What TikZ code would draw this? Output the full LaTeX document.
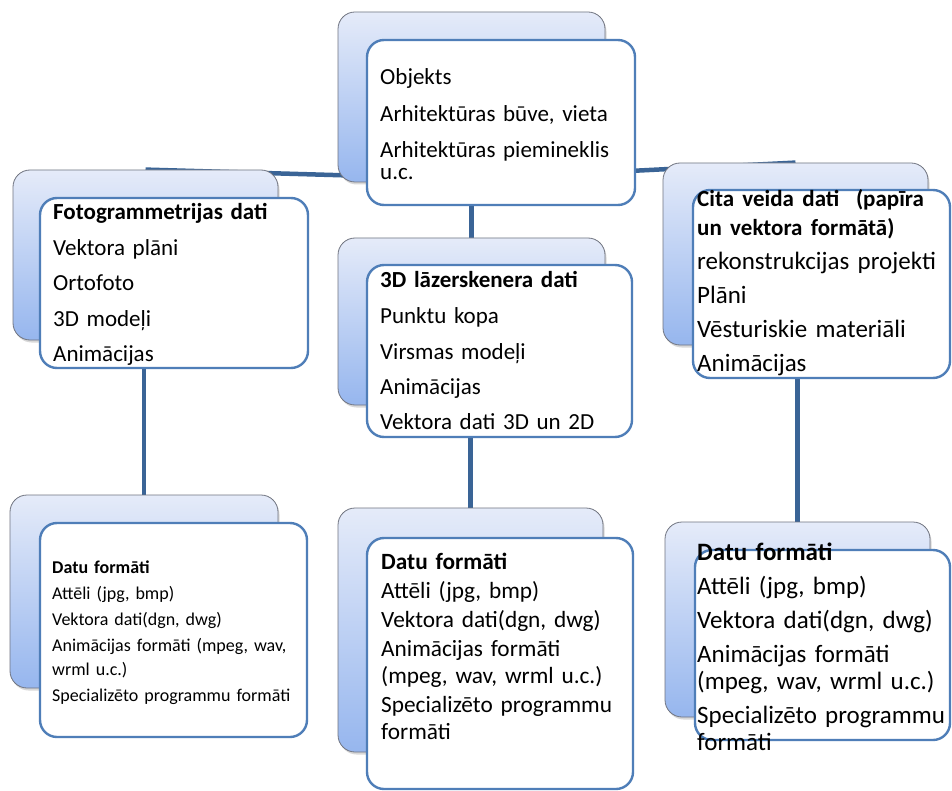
\documentclass[tikz,border=0pt]{standalone}
\usepackage{fontspec}
\setmainfont{Carlito}
\usetikzlibrary{shadows,calc}

\definecolor{linkblue}{RGB}{58,100,150}
\definecolor{frameblue}{RGB}{79,126,184}
\definecolor{backtop}{RGB}{229,235,249}
\definecolor{backbottom}{RGB}{150,182,238}
\definecolor{backedge}{RGB}{112,116,128}

\pgfdeclarelayer{bg}
\pgfsetlayers{bg,main}

% font size, baseline distance; no extra line skip between tight lines
\newcommand{\setboxfont}[2]{\fontsize{#1}{#2}\selectfont\lineskiplimit=-100pt\lineskip=0pt}

\tikzset{
  backbox/.style={rectangle, rounded corners=17pt, draw=backedge, line width=0.8pt,
    top color=backtop, bottom color=backbottom, inner sep=0pt,
    drop shadow={shadow xshift=1.5pt, shadow yshift=-2.5pt, opacity=0.3}},
  frontbox/.style={rectangle, rounded corners=17pt, draw=frameblue, line width=2.4pt,
    fill=white, inner sep=0pt},
  link/.style={draw=linkblue, line width=4.5pt},
  boxtext/.style={anchor=base west, inner sep=0pt, text width=300pt, align=left},
}

\begin{document}
\begin{tikzpicture}[x=1pt,y=-1pt]
\useasboundingbox (0,0) rectangle (952,791);

% root: the object
\node[backbox, minimum width=267pt, minimum height=170pt] (rootback) at (471.5,97) {};
\node[frontbox, minimum width=268pt, minimum height=165pt] (rootfront) at (501,122.5) {};
\node[boxtext, font=\setboxfont{23}{22}] (roottext) at (380,85)
  {Objekts\\[14.5pt] Arhitektūras būve, vieta\\[14.5pt] Arhitektūras piemineklis\\ u.c.};

% photogrammetry
\node[backbox, minimum width=265pt, minimum height=170pt] (lback) at (145.5,255) {};
\node[frontbox, minimum width=268pt, minimum height=170pt] (lfront) at (174,283) {};
\node[boxtext, font=\setboxfont{23}{35.5}] (ltext) at (53,220)
  {\textbf{Fotogrammetrijas dati}\\ Vektora plāni\\ Ortofoto\\ 3D modeļi\\ Animācijas};

% laser scanner
\node[backbox, minimum width=267pt, minimum height=167pt] (mback) at (471.5,321.5) {};
\node[frontbox, minimum width=265pt, minimum height=172pt] (mfront) at (499.5,351) {};
\node[boxtext, font=\setboxfont{23}{35.5}] (mtext) at (380,288)
  {\textbf{3D lāzerskenera dati}\\ Punktu kopa\\ Virsmas modeļi\\ Animācijas\\ Vektora dati 3D un 2D};

% other data
\node[backbox, minimum width=265pt, minimum height=182pt] (rback) at (795.5,254) {};
\node[frontbox, minimum width=257pt, minimum height=188pt] (rfront) at (821.5,284) {};
\node[boxtext, font=\setboxfont{25}{29}] (rtext) at (697,207)
  {{\fontsize{23}{29}\selectfont\bfseries Cita veida dati\ \ (papīra\\ un vektora formātā)}\\[5pt]
   rekonstrukcijas projekti\\[5pt] Plāni\\[5pt] Vēsturiskie materiāli\\[5pt] Animācijas};

% data formats, left
\node[backbox, minimum width=268pt, minimum height=193pt] (blback) at (144,591.5) {};
\node[frontbox, minimum width=267pt, minimum height=214pt] (blfront) at (173.5,630) {};
\node[boxtext, font=\setboxfont{18}{24}] (bltext) at (52,573)
  {\textbf{Datu formāti}\\[2pt] Attēli (jpg, bmp)\\[2pt] Vektora dati(dgn, dwg)\\[2pt] Animācijas formāti (mpeg, wav,\\ wrml u.c.)\\[2pt] Specializēto programmu formāti};

% data formats, middle
\node[backbox, minimum width=265pt, minimum height=244pt] (bmback) at (470.5,630) {};
\node[frontbox, minimum width=266pt, minimum height=251pt] (bmfront) at (500,663.5) {};
\node[boxtext, font=\setboxfont{23.3}{27}] (bmtext) at (381,569)
  {\textbf{Datu formāti}\\[2pt] Attēli (jpg, bmp)\\[2pt] Vektora dati(dgn, dwg)\\[2pt] Animācijas formāti\\ (mpeg, wav, wrml u.c.)\\[2pt] Specializēto programmu\\ formāti};

% data formats, right
\node[backbox, minimum width=265pt, minimum height=195pt] (brback) at (797.5,619.5) {};
\node[frontbox, minimum width=255pt, minimum height=190pt] (brfront) at (822.5,645) {};
\node[boxtext, font=\setboxfont{25}{27}] (brtext) at (697,560)
  {\textbf{Datu formāti}\\[7pt] Attēli (jpg, bmp)\\[7pt] Vektora dati(dgn, dwg)\\[7pt] Animācijas formāti\\ (mpeg, wav, wrml u.c.)\\[7pt] Specializēto programmu\\ formāti};

% white ground and connectors, behind the boxes
\coordinate (hub) at (471.5,179);
\begin{pgfonlayer}{bg}
  \fill[white] (0,0) rectangle (952,791);
  \draw[link] (hub) -- (lback.north);
  \draw[link] (hub) -- (rback.north);
  \draw[link] (hub) -- (mback.north);
  \draw[link] (blback.north |- lfront.south) -- (blback.north);
  \draw[link] (bmback.north |- mfront.south) -- (bmback.north);
  \draw[link] (brback.north |- rfront.south) -- (brback.north);
\end{pgfonlayer}
\end{tikzpicture}
\end{document}
